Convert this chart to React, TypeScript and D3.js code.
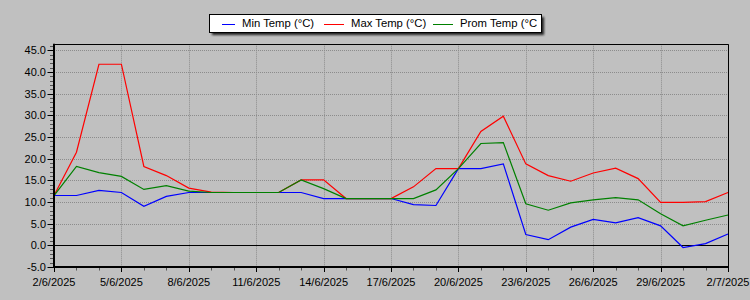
import React from "react";
import * as d3 from "d3";

const startDate = new Date(2025, 5, 2);
const dayCount = 31;
const minTemp = [11.5, 11.5, 12.7, 12.2, 9.0, 11.3, 12.2, 12.2, 12.2, 12.2, 12.2, 12.2, 10.8, 10.8, 10.8, 10.8, 9.4, 9.2, 17.7, 17.7, 18.8, 2.5, 1.3, 4.2, 6.0, 5.2, 6.4, 4.5, -0.5, 0.4, 2.6];
const maxTemp = [11.5, 21.5, 41.8, 41.8, 18.2, 16.1, 13.2, 12.3, 12.2, 12.2, 12.2, 15.1, 15.1, 10.8, 10.8, 10.8, 13.5, 17.7, 17.7, 26.3, 29.8, 18.8, 16.1, 14.8, 16.7, 17.8, 15.4, 9.9, 9.9, 10.1, 12.2];
const promTemp = [11.5, 18.2, 16.8, 15.9, 12.9, 13.8, 12.5, 12.2, 12.2, 12.2, 12.2, 15.1, 13.1, 10.8, 10.8, 10.8, 10.8, 12.8, 17.7, 23.5, 23.7, 9.6, 8.1, 9.8, 10.5, 11.0, 10.5, 7.3, 4.5, 5.8, 7.0];
const seriesNames = ["Min Temp (°C)", "Max Temp (°C)", "Prom Temp (°C)"];
const seriesColors = ["#0000ff", "#ff0000", "#008000"];
const yTicks = [-5, 0, 5, 10, 15, 20, 25, 30, 35, 40, 45];

const W = 750, H = 300;
const left = 54, right = 728, top = 44.3, bottom = 267;
const FONT = "'Liberation Sans', Arial, sans-serif";

const dates = d3.range(dayCount).map((i) => d3.timeDay.offset(startDate, i));
const majorDates = dates.filter((_, i) => i % 3 === 0);
const fmt = (d: Date) => `${d.getDate()}/${d.getMonth() + 1}/${d.getFullYear()}`;

export default function App() {
  const x = d3.scaleTime().domain([dates[0], dates[dates.length - 1]]).range([left, right]);
  const y = d3.scaleLinear().domain([-5, 46.4]).range([bottom, top]);
  const line = d3.line<number>().x((_, i) => x(dates[i])).y((v) => y(v));
  const series = [minTemp, maxTemp, promTemp];
  const minorY = d3.range(-5, 47, 1);

  const legX = 209, legY = 14, legW = 332, legH = 18;
  const entryStep = 109;

  return (
    <svg width={W} height={H} style={{ position: "absolute", left: 0, top: 0, background: "#c0c0c0" }} fontFamily={FONT}>
      <rect x={0} y={0} width={W} height={H} fill="#c0c0c0" />
      {/* grid */}
      {yTicks.filter((t) => t !== 0 && t !== -5).map((t) => (
        <line key={"gy" + t} x1={left} x2={right} y1={Math.round(y(t)) + 0.5} y2={Math.round(y(t)) + 0.5} stroke="#8c8c8c" strokeDasharray="1,1" />
      ))}
      {majorDates.slice(1, -1).map((d, i) => (
        <line key={"gx" + i} x1={Math.round(x(d)) + 0.5} x2={Math.round(x(d)) + 0.5} y1={top} y2={bottom} stroke="#8c8c8c" strokeDasharray="1,1" />
      ))}
      {/* zero line */}
      <line x1={left} x2={right} y1={Math.round(y(0)) + 0.5} y2={Math.round(y(0)) + 0.5} stroke="#000" />
      {/* series */}
      {series.map((s, i) => (
        <path key={"s" + i} d={line(s) || ""} fill="none" stroke={seriesColors[i]} strokeWidth={1.2} />
      ))}
      {/* frame */}
      <line x1={left} x2={right + 0.5} y1={Math.round(top) + 0.5} y2={Math.round(top) + 0.5} stroke="#000" />
      <line x1={right + 0.5} x2={right + 0.5} y1={top} y2={bottom} stroke="#000" />
      <line x1={left} x2={left} y1={top - 0.5} y2={bottom + 1} stroke="#000" strokeWidth={2} />
      <line x1={left - 1} x2={right + 1} y1={bottom} y2={bottom} stroke="#000" strokeWidth={2} />
      {/* y ticks */}
      {minorY.map((t) => (
        <line key={"ty" + t} x1={t % 5 === 0 ? 47.5 : 50} x2={53} y1={Math.round(y(t)) + 0.5} y2={Math.round(y(t)) + 0.5} stroke={t % 5 === 0 ? "#000" : "#555"} />
      ))}
      {yTicks.map((t) => (
        <text key={"ly" + t} x={46} y={y(t)} dy="0.35em" textAnchor="end" fontSize={11} fill="#000">{t.toFixed(1)}</text>
      ))}
      {/* x ticks */}
      {dates.map((d, i) => (
        <line key={"tx" + i} x1={Math.round(x(d)) + 0.5} x2={Math.round(x(d)) + 0.5} y1={268} y2={i % 3 === 0 ? 272 : 270.5} stroke={i % 3 === 0 ? "#000" : "#555"} />
      ))}
      {majorDates.map((d, i) => (
        <text key={"lx" + i} x={x(d)} y={286} textAnchor="middle" fontSize={11} fill="#000">{fmt(d)}</text>
      ))}
      {/* legend */}
      <defs>
        <clipPath id="legclip">
          <rect x={222} y={legY} width={legX + legW - 4 - 222} height={legH} />
        </clipPath>
        <filter id="shadow" x="-10%" y="-50%" width="130%" height="200%">
          <feGaussianBlur stdDeviation="0.8" />
        </filter>
      </defs>
      <rect x={legX + 3} y={legY + 3} width={legW} height={legH} fill="#222" filter="url(#shadow)" />
      <rect x={legX + 0.5} y={legY + 0.5} width={legW} height={legH} fill="#fff" stroke="#000" />
      <g clipPath="url(#legclip)">
        {seriesNames.map((n, i) => {
          const ex = 215 + i * entryStep;
          const cy = legY + legH / 2 + 0.5;
          return (
            <g key={"lg" + i}>
              <line x1={ex} x2={ex + 20} y1={Math.round(cy) + 0.5} y2={Math.round(cy) + 0.5} stroke={seriesColors[i]} />
              <text x={ex + 27} y={cy} dy="0.35em" fontSize={11.3} fill="#000">{n}</text>
            </g>
          );
        })}
      </g>
    </svg>
  );
}
